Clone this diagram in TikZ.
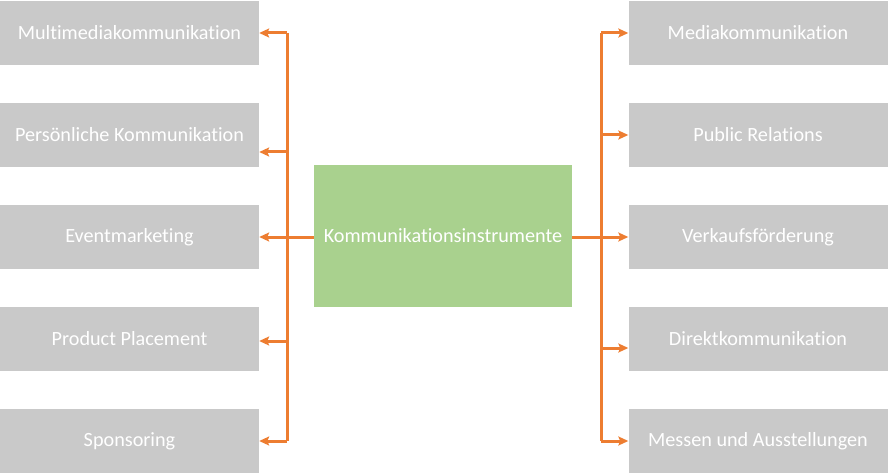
\documentclass[tikz,border=0pt]{standalone}
\usepackage{fontspec}
\setmainfont{Carlito}[RawFeature=-liga]
\usetikzlibrary{arrows.meta}
\definecolor{boxgray}{HTML}{C9C9C9}
\definecolor{boxgreen}{HTML}{A9D18E}
\definecolor{lineorange}{HTML}{ED7D31}
\begin{document}
\begin{tikzpicture}[x=1pt,y=-1pt,
  item/.style={fill=boxgray, draw=none, minimum width=259pt, minimum height=64pt, inner sep=0pt, text=white, font=\fontsize{20.2}{23}\selectfont},
  hub/.style={fill=boxgreen, draw=none, minimum width=258pt, minimum height=142pt, inner sep=0pt, text=white, font=\fontsize{20.2}{23}\selectfont},
  conn/.style={draw=lineorange, line width=3pt},
  arr/.style={conn, -{Stealth[length=10pt,width=9pt,inset=2pt]}}
]
\useasboundingbox (0,0) rectangle (888,473);
% left boxes
\node[item] (L1) at (129.5,33) {Multimediakommunikation};
\node[item] (L2) at (129.5,135) {Persönliche Kommunikation};
\node[item] (L3) at (129.5,237) {Eventmarketing};
\node[item] (L4) at (129.5,339) {Product Placement};
\node[item] (L5) at (129.5,441) {Sponsoring};
% right boxes
\node[item] (R1) at (758,33) {Mediakommunikation};
\node[item] (R2) at (758,135) {Public Relations};
\node[item] (R3) at (758,237) {Verkaufsförderung};
\node[item] (R4) at (758,339) {Direktkommunikation};
\node[item] (R5) at (758,441) {Messen und Ausstellungen};
% hub
\node[hub] (C) at (443,236) {Kommunikationsinstrumente};
% junctions
\coordinate (jl1) at (287,33);
\coordinate (jl2) at (287,152);
\coordinate (jl3) at (287,237);
\coordinate (jl4) at (287,341);
\coordinate (jl5) at (287,441);
\coordinate (jr1) at (601,33);
\coordinate (jr2) at (601,135);
\coordinate (jr3) at (601,237);
\coordinate (jr4) at (601,348);
\coordinate (jr5) at (601,441);
% trunks
\draw[conn] (jl1) -- (jl5);
\draw[conn] (jr1) -- (jr5);
\draw[conn] (C.west |- jl3) -- (jl3);
\draw[conn] (C.east |- jr3) -- (jr3);
% arrows
\foreach \i in {1,...,5} {
  \draw[arr] (jl\i) -- (jl\i -| L\i.east);
  \draw[arr] (jr\i) -- (jr\i -| R\i.west);
}
\end{tikzpicture}
\end{document}
